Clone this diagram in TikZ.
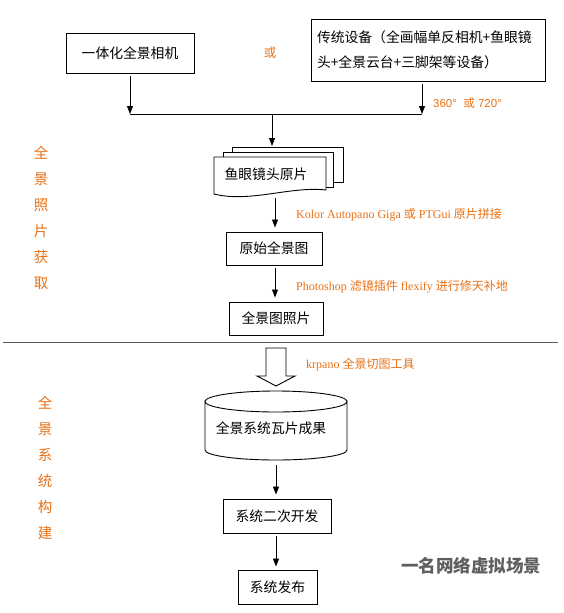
\documentclass[tikz,border=0pt]{standalone}
\usepackage{fontspec}
\setmainfont{Liberation Serif}
\newfontfamily\cjk{Noto Sans CJK SC}
\newfontfamily\arialf{Liberation Sans}
\usetikzlibrary{arrows.meta}
\definecolor{anno}{RGB}{232,112,20}
\definecolor{wm}{RGB}{95,95,95}
\begin{document}
\begin{tikzpicture}[x=1pt,y=-1pt,
  box/.style={draw, line width=0.9pt, fill=white, inner sep=0pt, font=\cjk\fontsize{13.8}{16}\selectfont},
  ann/.style={text=anno, anchor=west, inner sep=0pt, font=\fontsize{12}{14}\selectfont},
  side/.style={text=anno, align=center, inner sep=0pt, font=\cjk\fontsize{14.5}{26}\selectfont},
  arr/.style={-{Triangle[length=8pt,width=6pt]}, line width=0.8pt},
  ln/.style={line width=0.8pt},
  sheet/.style={draw, line width=0.9pt, fill=white}]
\useasboundingbox (0,0) rectangle (563,613);

% top boxes
\node[box, minimum width=128pt, minimum height=40pt] (b1) at (130,53) {一体化全景相机};
\node[box, minimum width=234pt, minimum height=62pt, text width=222pt, align=left,
      font=\cjk\fontsize{13.8}{25}\selectfont] (b2) at (428,50)
  {传统设备（全画幅单反相机+鱼眼镜\\头+全景云台+三脚架等设备）};
\node[text=anno, inner sep=0pt, font=\cjk\fontsize{12.5}{14}\selectfont] (or) at (270,53) {或};

\coordinate (j1) at (130,114);
\coordinate (j2) at (422,114);
\coordinate (jm) at (272,114);
\draw[arr, shorten <=3pt] (b1.south) -- (j1);
\draw[arr, shorten <=3pt] (b2.south -| j2) -- (j2);
\draw[ln] (j1) -- (j2);
\node[ann, font=\arialf\fontsize{11.5}{14}\selectfont] (deg) at (433,103) {360°\ \ {\cjk 或} 720°};

% document stack
\draw[sheet] (232,182) -- (232,147) -- (343,147) -- (343,182) -- cycle;
\draw[sheet] (223,187) -- (223,152) -- (333,152) -- (333,187) -- cycle;
\draw[sheet] (214,194) -- (214,157) -- (326,157) -- (326,190)
  .. controls (290,186) and (250,203) .. (214,194) -- cycle;
\node[inner sep=0pt, font=\cjk\fontsize{13.8}{16}\selectfont] (doc) at (266,174) {鱼眼镜头原片};
\coordinate (doctop) at (272,146);
\coordinate (docbot) at (275,198);
\draw[arr] (jm) -- (doctop);

% middle chain
\node[box, minimum width=96pt, minimum height=33pt] (b3) at (274,248.5) {原始全景图};
\node[box, minimum width=94pt, minimum height=33pt] (b4) at (276,318.5) {全景图照片};
\draw[arr, shorten >=4pt] (docbot) -- (docbot |- b3.north);
\draw[arr, shorten <=3pt, shorten >=4pt] (b3.south -| docbot) -- (docbot |- b4.north);
\node[ann] (k1) at (296,215) {Kolor Autopano Giga {\cjk 或} PTGui {\cjk 原片拼接}};
\node[ann] (k2) at (296,287) {Photoshop {\cjk 滤镜插件} flexify {\cjk 进行修天补地}};

% separator
\draw[line width=1pt, black!65] (3,342) -- (558,342);

% hollow arrow
\draw[line width=0.9pt, fill=white] (266,348) -- (286,348) -- (286,376) -- (295,376)
  -- (276,386) -- (257,376) -- (266,376) -- cycle;
\node[ann] (k3) at (306,365) {krpano {\cjk 全景切图工具}};

% cylinder
\draw[sheet] (205,401.5) -- (205,450) arc[start angle=180, end angle=360, x radius=71pt, y radius=10pt]
  -- (347,401.5) arc[start angle=0, end angle=-180, x radius=71pt, y radius=10.5pt] -- cycle;
\draw[line width=0.9pt] (205,401.5) arc[start angle=180, end angle=0, x radius=71pt, y radius=10.5pt];
\node[inner sep=0pt, font=\cjk\fontsize{13.8}{16}\selectfont] (cyl) at (271,428) {全景系统瓦片成果};
\coordinate (cylbot) at (276,465);

\node[box, minimum width=108pt, minimum height=34pt] (b5) at (277,516) {系统二次开发};
\node[box, minimum width=79pt, minimum height=34pt] (b6) at (277.5,587) {系统发布};
\draw[arr, shorten >=4pt] (cylbot) -- (cylbot |- b5.north);
\draw[arr, shorten <=3pt, shorten >=3pt] (b5.south -| cylbot) -- (cylbot |- b6.north);

% side labels
\node[side] (s1) at (41,218) {全\\景\\照\\片\\获\\取};
\node[side] (s2) at (45,468) {全\\景\\系\\统\\构\\建};

% watermark
\node[inner sep=0pt, text=wm, font=\cjk\bfseries\fontsize{17.5}{20}\selectfont] (wmk) at (471,566) {一名网络虚拟场景};
\end{tikzpicture}
\end{document}
